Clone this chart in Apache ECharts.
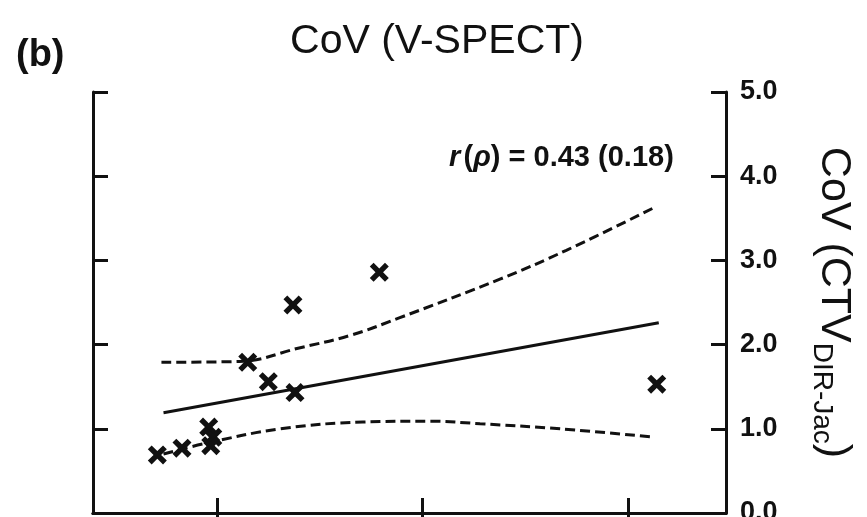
<!DOCTYPE html>
<html>
<head>
<meta charset="utf-8">
<script src="https://cdn.jsdelivr.net/npm/echarts@6/dist/echarts.min.js"></script>
<style>
  html, body { margin: 0; padding: 0; background: #fff; }
  #chart { width: 867px; height: 517px; }
</style>
</head>
<body>
<div id="chart"></div>
<script>
// scatter points (x in tick units 1..3, y = CoV CTV)
const pointX = [0.71, 0.83, 0.96, 0.98, 0.97, 1.15, 1.25, 1.38, 1.37, 1.79, 3.14]
const pointY = [0.69, 0.77, 1.02, 0.90, 0.80, 1.79, 1.56, 1.43, 2.47, 2.86, 1.53]

// regression line
const fitX = [0.74, 3.15]
const fitY = [1.19, 2.26]

// confidence band
const upperX = [0.73, 1.11, 1.40, 1.65, 1.89, 2.38, 2.70, 3.13]
const upperY = [1.79, 1.80, 1.96, 2.11, 2.32, 2.78, 3.12, 3.63]
const lowerX = [0.74, 0.95, 1.31, 1.71, 2.04, 2.28, 2.67, 3.13]
const lowerY = [0.70, 0.83, 1.00, 1.08, 1.09, 1.06, 1.00, 0.90]

const xTicks = [1, 2, 3]
const yTickLabels = ['0.0', '1.0', '2.0', '3.0', '4.0', '5.0']

const FONT = '"Liberation Sans Narrow", "Arial Narrow", "Liberation Sans", sans-serif'
const INK = '#111'

const zip = (xs, ys) => xs.map((x, i) => [x, ys[i]])

let myChart = echarts.init(document.getElementById('chart'), null, { renderer: 'canvas' })

const axisLine = { show: true, lineStyle: { color: INK, width: 3 } }
const tickStyle = { color: INK, width: 3 }

let xBase = {
  type: 'value',
  min: 0.397,
  max: 3.477,
  axisLine: axisLine,
  axisTick: { show: true, inside: true, length: 15, lineStyle: tickStyle, customValues: xTicks },
  axisLabel: { show: false, customValues: xTicks },
  splitLine: { show: false }
}

let option = {
  animation: false,
  backgroundColor: '#fff',
  textStyle: { fontFamily: FONT, color: INK },
  grid: { left: 93, right: 141, top: 92, bottom: 4, outerBoundsMode: 'none', containLabel: false },
  title: [
    {
      text: 'CoV (V-SPECT)',
      left: 432,
      top: 16,
      textAlign: 'center',
      textStyle: { fontFamily: FONT, fontSize: 41, fontWeight: 'normal', color: INK }
    },
    {
      text: '(b)',
      left: 11,
      top: 32,
      textStyle: { fontFamily: FONT, fontSize: 38, fontWeight: 'bold', color: INK }
    }
  ],
  graphic: [
    {
      type: 'text',
      left: 449,
      top: 143,
      style: {
        text: '{i|r} {n|(}{i|ρ}{n|) = 0.43 (0.18)}',
        rich: {
          i: { fontFamily: FONT, fontSize: 29, fontStyle: 'italic', fontWeight: 'bold', fill: INK },
          n: { fontFamily: FONT, fontSize: 29, fontWeight: 'bold', fill: INK }
        }
      }
    }
  ],
  xAxis: [
    Object.assign({ position: 'bottom' }, xBase),
    Object.assign({ position: 'top' }, xBase)
  ],
  yAxis: [
    {
      type: 'value',
      position: 'right',
      min: 0,
      max: 5,
      interval: 1,
      axisLine: axisLine,
      axisTick: { show: true, inside: true, length: 15, lineStyle: tickStyle },
      axisLabel: {
        margin: 14,
        fontFamily: FONT,
        fontSize: 27,
        fontWeight: 'bold',
        color: INK,
        formatter: (v) => yTickLabels[Math.round(v)]
      },
      splitLine: { show: false },
      name: '{m|CoV (CTV}{s|DIR-Jac}{m|)}',
      nameLocation: 'middle',
      nameRotate: -90,
      nameGap: 82,
      nameTextStyle: {
        rich: {
          m: { fontFamily: FONT, fontSize: 43, color: INK },
          s: { fontFamily: FONT, fontSize: 28, color: INK, verticalAlign: 'bottom', padding: [24, 0, 0, 0] }
        }
      }
    },
    {
      type: 'value',
      position: 'left',
      min: 0,
      max: 5,
      interval: 1,
      axisLine: axisLine,
      axisTick: { show: true, inside: true, length: 15, lineStyle: tickStyle },
      axisLabel: { show: false },
      splitLine: { show: false }
    }
  ],
  series: [
    {
      type: 'line',
      data: zip(fitX, fitY),
      symbol: 'none',
      lineStyle: { color: INK, width: 3 },
      z: 2
    },
    {
      type: 'line',
      data: zip(upperX, upperY),
      smooth: 0.4,
      symbol: 'none',
      lineStyle: { color: INK, width: 3, type: [10, 5] },
      z: 2
    },
    {
      type: 'line',
      data: zip(lowerX, lowerY),
      smooth: 0.4,
      symbol: 'none',
      lineStyle: { color: INK, width: 3, type: [10, 5] },
      z: 2
    },
    {
      type: 'scatter',
      data: zip(pointX, pointY),
      symbol: 'path://M0,4 L4,0 L10,6 L16,0 L20,4 L14,10 L20,16 L16,20 L10,14 L4,20 L0,16 L6,10 Z',
      symbolSize: 19,
      itemStyle: { color: INK, opacity: 1 },
      z: 3
    }
  ]
}
myChart.setOption(option)
</script>
</body>
</html>
